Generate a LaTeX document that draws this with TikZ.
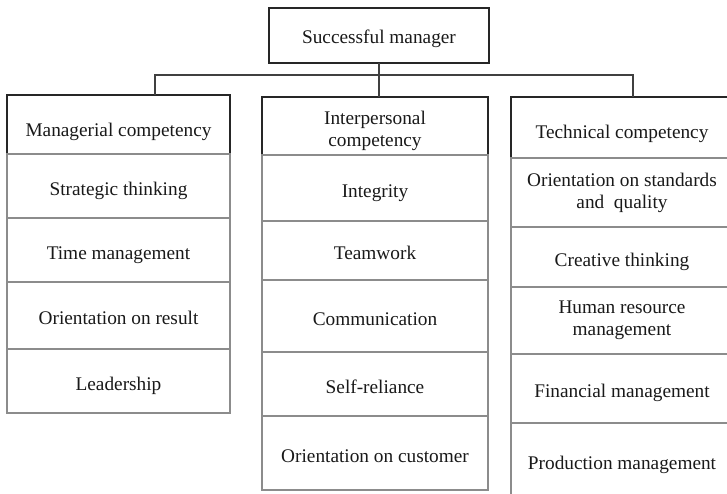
\documentclass[tikz,border=0pt]{standalone}
\usepackage{fontspec}
\setmainfont{Liberation Serif}
\usetikzlibrary{positioning}
\tikzset{
    root/.style =   {rectangle,
                    fill=white,
                    draw=black!85,
                    text=black!90,
                    line width=1.7pt,
                    outer sep=0pt,
                    minimum width=220pt,
                    minimum height=55pt},
    head/.style =   {rectangle,
                    fill=white,
                    draw=black!85,
                    text=black!90,
                    line width=1.7pt,
                    outer sep=0pt,
                    align=center},
    item/.style =   {rectangle,
                    fill=white,
                    draw=black!45,
                    text=black!90,
                    line width=1.2pt,
                    outer sep=0pt,
                    align=center},
    oneline/.style = {text height=#1,
                    text depth=0pt},
    oneline/.default = 18pt,
    lcol/.style =   {minimum width=223pt},
    mcol/.style =   {minimum width=226pt},
    rcol/.style =   {minimum width=222pt},
    link/.style =   {draw=black!75,
                    line width=1.3pt},
    -,
    node distance=0pt}

\begin{document}
\begin{tikzpicture}[x=1pt, y=-1pt, font=\fontsize{19.3}{22}\selectfont]
        \path[use as bounding box, fill=white] (0,0) rectangle (727,493);
        \clip (0,0) rectangle (727,493);
        \node[root, oneline=15pt]                       (SM) at (379,35.5)      {Successful manager};
        \node[head, lcol, oneline=23pt, minimum height=59pt] (MC) at (118.5,124.5) {Managerial competency};
        \node[head, mcol, text height=41pt, text depth=0pt, minimum height=58pt] (IC) at (375,126) {Interpersonal\\competency};
        \node[head, rcol, oneline=22pt, minimum height=61pt] (TC) at (622,127.5)  {Technical competency};
        % managerial
        \node[item, lcol, oneline, minimum height=64pt] (M1) [below=of MC]      {Strategic thinking};
        \node[item, lcol, oneline, minimum height=64pt] (M2) [below=of M1]      {Time management};
        \node[item, lcol, oneline, minimum height=67pt] (M3) [below=of M2]      {Orientation on result};
        \node[item, lcol, oneline, minimum height=64pt] (M4) [below=of M3]      {Leadership};
        % interpersonal
        \node[item, mcol, oneline, minimum height=66pt] (I1) [below=of IC]      {Integrity};
        \node[item, mcol, oneline, minimum height=59pt] (I2) [below=of I1]      {Teamwork};
        \node[item, mcol, oneline, minimum height=72pt] (I3) [below=of I2]      {Communication};
        \node[item, mcol, oneline, minimum height=64pt] (I4) [below=of I3]      {Self-reliance};
        \node[item, mcol, oneline, minimum height=74pt] (I5) [below=of I4]      {Orientation on customer};
        % technical
        \node[item, rcol, minimum height=69pt]          (T1) [below=of TC]      {Orientation on standards\\and\ \ quality};
        \node[item, rcol, oneline, minimum height=60pt] (T2) [below=of T1]      {Creative thinking};
        \node[item, rcol, minimum height=67pt]          (T3) [below=of T2]      {Human resource\\management};
        \node[item, rcol, oneline, minimum height=69pt] (T4) [below=of T3]      {Financial management};
        \node[item, rcol, oneline, minimum height=75pt] (T5) [below=of T4]      {Production management};
        \coordinate (L) at (155,75);
        \coordinate (R) at (633,75);
        \path[link] (SM.south) -- (SM.south |- IC.north);
        \path[link] (MC.north -| L) |- (R) -- (TC.north -| R);
\end{tikzpicture}
\end{document}
